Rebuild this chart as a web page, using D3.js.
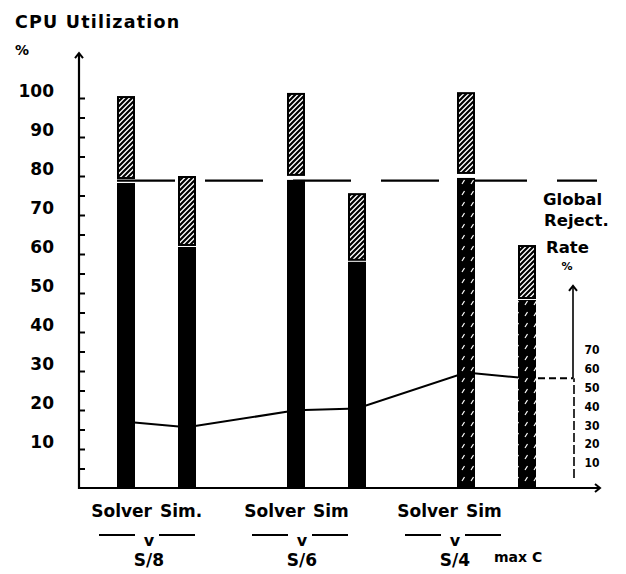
<!DOCTYPE html>
<html><head><meta charset="utf-8">
<script src="https://cdn.jsdelivr.net/npm/d3@7"></script>
<style>html,body{margin:0;padding:0;background:#fff}svg{display:block}</style>
</head><body><svg id="c" width="626" height="574"></svg>
<script>
// ---- data ----
const groups = ["S/8", "S/6", "S/4"];
const roles = ["Solver", "Sim"];
const solverLabels = ["Solver", "Solver", "Solver"];
const simLabels = ["Sim.", "Sim", "Sim"];
const solverTotal = [100.5, 101.3, 101.5];
const solverBase = [78.2, 79.0, 79.5];
const simTotal = [80.0, 75.6, 62.3];
const simBase = [61.8, 58.0, 48.2];
const rejectRate = [32, 29, 38, 39, 58, 55]; // Solver, Sim per group
const globalLimit = 78.8;
const yTickLabels = [10, 20, 30, 40, 50, 60, 70, 80, 90, 100];
const yMinorTicks = d3.range(5, 101, 5);
const rightTickLabels = [10, 20, 30, 40, 50, 60, 70];
const extraLabel = "max C";

// ---- scales ----
const svg = d3.select("#c");
const y = d3.scaleLinear().domain([0, 100]).range([488, 98]);
const yR = d3.scaleLinear().domain([0, 70]).range([482, 350]);
const xg = d3.scalePoint().domain(groups).range([156, 496]);
const xo = d3.scalePoint().domain(roles).range([-30, 31]);
const xl = d3.scalePoint().domain(groups).range([149, 455]);
const axisX = 79, rightAxisX = 573, xEnd = 600;
const barW = 18;
const font = "'DejaVu Sans', Verdana, sans-serif";

// ---- patterns ----
const defs = svg.append("defs");
const hp = defs.append("pattern").attr("id", "hatch").attr("patternUnits", "userSpaceOnUse")
  .attr("width", 5).attr("height", 5);
hp.append("rect").attr("width", 5).attr("height", 5).attr("fill", "#fff");
hp.append("path").attr("d", "M-1,1 l2,-2 M0,5 l5,-5 M4,6 l2,-2")
  .attr("stroke", "#000").attr("stroke-width", 2.2);
const sp = defs.append("pattern").attr("id", "speck").attr("patternUnits", "userSpaceOnUse")
  .attr("width", 9).attr("height", 11);
sp.append("rect").attr("width", 9).attr("height", 11).attr("fill", "#000");
sp.append("path").attr("d", "M3,8 l2.5,-4").attr("stroke", "#fff").attr("stroke-width", 1.2);
defs.append("marker").attr("id", "arr").attr("viewBox", "-6 -6 12 12")
  .attr("markerWidth", 12).attr("markerHeight", 12).attr("markerUnits", "userSpaceOnUse")
  .attr("orient", "auto")
  .append("path").attr("d", "M-5,-4 L0,0 L-5,4").attr("fill", "none")
  .attr("stroke", "#000").attr("stroke-width", 2);

// ---- global limit dashed line (under bars) ----
const x0 = xg(groups[0]) + xo("Solver") - barW / 2;
svg.append("line").attr("x1", x0).attr("x2", 597)
  .attr("y1", y(globalLimit)).attr("y2", y(globalLimit))
  .attr("stroke", "#000").attr("stroke-width", 2.2).attr("stroke-dasharray", "58,30");

// ---- reject rate line ----
const pts = [];
groups.forEach((g, i) => roles.forEach((r, j) => pts.push([xg(g) + xo(r), yR(rejectRate[i * 2 + j])])));
svg.append("path").attr("d", d3.line()(pts)).attr("fill", "none")
  .attr("stroke", "#000").attr("stroke-width", 2);
const last = pts[pts.length - 1];
svg.append("line").attr("x1", last[0]).attr("x2", rightAxisX).attr("y1", last[1]).attr("y2", last[1])
  .attr("stroke", "#000").attr("stroke-width", 2).attr("stroke-dasharray", "7,4");

// ---- bars ----
const bars = groups.flatMap((g, i) => [
  { g, i, role: "Solver", total: solverTotal[i], base: solverBase[i], gap: 4 },
  { g, i, role: "Sim", total: simTotal[i], base: simBase[i], gap: 1 }
]);
const bg = svg.append("g");
bg.selectAll("rect.black").data(bars).join("rect").attr("class", "black")
  .attr("x", d => xg(d.g) + xo(d.role) - barW / 2)
  .attr("y", d => y(d.base))
  .attr("width", barW)
  .attr("height", d => y(0) - y(d.base))
  .attr("fill", d => d.i === 2 ? "url(#speck)" : "#000");
bg.selectAll("rect.hatch").data(bars).join("rect").attr("class", "hatch")
  .attr("x", d => xg(d.g) + xo(d.role) - barW / 2 + 1)
  .attr("y", d => y(d.total) + 1)
  .attr("width", barW - 2)
  .attr("height", d => y(d.base) - d.gap - y(d.total) - 2)
  .attr("fill", "url(#hatch)").attr("stroke", "#000").attr("stroke-width", 2);

// ---- left axis ----
svg.append("line").attr("x1", axisX).attr("x2", axisX).attr("y1", y(0) + 1).attr("y2", y(111.5))
  .attr("stroke", "#000").attr("stroke-width", 2.2).attr("marker-end", "url(#arr)");
const ticksG = svg.append("g").attr("transform", `translate(${axisX},0)`)
  .call(d3.axisRight(y).tickValues(yMinorTicks).tickSize(6).tickFormat(""));
ticksG.select(".domain").remove();
ticksG.selectAll("line").attr("stroke", "#000").attr("stroke-width", 2);
const labG = svg.append("g").attr("transform", `translate(${axisX},-7)`)
  .call(d3.axisLeft(y).tickValues(yTickLabels).tickSize(0).tickPadding(25).tickFormat(d3.format("d")));
labG.select(".domain").remove();
labG.selectAll("text").attr("font-family", font).attr("font-weight", "bold")
  .attr("font-size", 17).attr("fill", "#000");

// ---- x axis ----
svg.append("line").attr("x1", axisX - 1).attr("x2", xEnd).attr("y1", y(0)).attr("y2", y(0))
  .attr("stroke", "#000").attr("stroke-width", 2.2).attr("marker-end", "url(#arr)");

// ---- right axis ----
svg.append("line").attr("x1", rightAxisX).attr("x2", rightAxisX).attr("y1", last[1]).attr("y2", yR(104))
  .attr("stroke", "#000").attr("stroke-width", 1.6).attr("marker-end", "url(#arr)");
svg.append("line").attr("x1", rightAxisX + 1).attr("x2", rightAxisX + 1).attr("y1", y(0) - 10).attr("y2", last[1])
  .attr("stroke", "#000").attr("stroke-width", 1.6).attr("stroke-dasharray", "9,3");
svg.append("g").selectAll("text").data(rightTickLabels).join("text")
  .attr("x", 592).attr("y", d => yR(d)).attr("dy", "0.35em").attr("text-anchor", "middle")
  .attr("font-family", "'DejaVu Sans Condensed', 'DejaVu Sans', sans-serif").attr("font-weight", "bold")
  .attr("font-size", 12).text(d => d);

// ---- titles ----
const txt = (x, yy, s, size, anchor = "start", weight = "bold") =>
  svg.append("text").attr("x", x).attr("y", yy).attr("text-anchor", anchor)
    .attr("font-family", font).attr("font-weight", weight).attr("font-size", size).text(s);
txt(15, 28, "CPU Utilization", 17.5).attr("letter-spacing", 1.2);
txt(15, 55, "%", 14);
txt(543, 205, "Global", 16.5);
txt(544, 226, "Reject.", 16.5);
txt(546, 253, "Rate", 16.5);
txt(567, 270, "%", 11, "middle");

// ---- category labels ----
groups.forEach((g, i) => {
  const c = xl(g);
  txt(c + 3, 517, solverLabels[i], 17, "end");
  txt(c + 11, 517, simLabels[i], 17, "start");
  svg.append("line").attr("x1", c - 50).attr("x2", c - 14).attr("y1", 535).attr("y2", 535)
    .attr("stroke", "#000").attr("stroke-width", 2.2);
  svg.append("line").attr("x1", c + 10).attr("x2", c + 46).attr("y1", 535).attr("y2", 535)
    .attr("stroke", "#000").attr("stroke-width", 2.2);
  txt(c, 546, "v", 16, "middle");
  txt(c, 566, g, 17, "middle");
});
txt(494, 562, extraLabel, 14, "start");
</script>
</body></html>
